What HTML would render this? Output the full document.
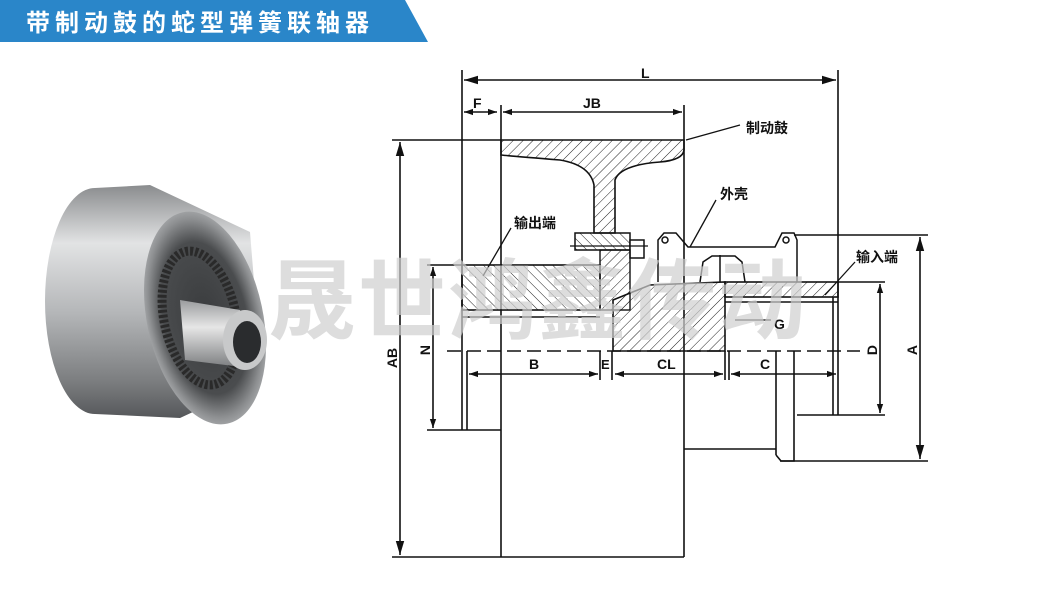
<!DOCTYPE html>
<html><head><meta charset="utf-8"><style>
html,body{margin:0;padding:0;background:#fff;}
svg{display:block;}
text{font-family:"Liberation Sans","Noto Sans CJK SC",sans-serif;}
</style></head><body>
<svg width="1064" height="593" viewBox="0 0 1064 593" xmlns="http://www.w3.org/2000/svg">
<defs>
<pattern id="h1" width="7" height="7" patternUnits="userSpaceOnUse" patternTransform="rotate(45)"><line x1="0" y1="0" x2="0" y2="7" stroke="#222" stroke-width="1"/></pattern>
<pattern id="h2" width="7" height="7" patternUnits="userSpaceOnUse" patternTransform="rotate(-45)"><line x1="0" y1="0" x2="0" y2="7" stroke="#222" stroke-width="1"/></pattern>
<linearGradient id="gb" x1="0" y1="0" x2="0" y2="1"><stop offset="0" stop-color="#8a8c8e"/><stop offset="0.25" stop-color="#e2e3e4"/><stop offset="0.55" stop-color="#b4b6b8"/><stop offset="0.85" stop-color="#7a7c7e"/><stop offset="1" stop-color="#55575a"/></linearGradient>
<radialGradient id="gf" cx="0.5" cy="0.5" r="0.55"><stop offset="0" stop-color="#3a3c3e"/><stop offset="0.65" stop-color="#4a4c4e"/><stop offset="0.85" stop-color="#8e9092"/><stop offset="1" stop-color="#b8babc"/></radialGradient>
<linearGradient id="gh" x1="0" y1="0" x2="0" y2="1"><stop offset="0" stop-color="#9a9c9e"/><stop offset="0.4" stop-color="#e6e6e6"/><stop offset="1" stop-color="#7a7c7e"/></linearGradient>
<marker id="ar" viewBox="0 0 10 10" refX="10" refY="5" markerWidth="9" markerHeight="9" markerUnits="userSpaceOnUse" orient="auto-start-reverse"><path d="M0,1.5 L10,5 L0,8.5 z" fill="#111"/></marker>
<marker id="ab" viewBox="0 0 10 10" refX="10" refY="5" markerWidth="14" markerHeight="14" markerUnits="userSpaceOnUse" orient="auto-start-reverse"><path d="M0,2 L10,5 L0,8 z" fill="#111"/></marker>
</defs>

<!-- header -->
<polygon points="0,0 405,0 428,42 0,42" fill="#2a86c9"/>
<text x="26" y="31" font-size="24" font-weight="bold" fill="#fff" letter-spacing="5">带制动鼓的蛇型弹簧联轴器</text>

<!-- photo -->
<path d="M95,188 L150,185 L250,232 L262,380 L180,418 L95,414 A50,113 0 0 1 95,188 z" fill="url(#gb)"/>
<ellipse cx="205" cy="318" rx="58" ry="108" transform="rotate(-12 205 318)" fill="url(#gf)"/>
<ellipse cx="200" cy="318" rx="36" ry="68" transform="rotate(-12 200 318)" fill="none" stroke="#2a2a2a" stroke-width="9" stroke-dasharray="3 2"/>
<path d="M180,300 L240,310 L250,368 L185,360 z" fill="url(#gh)"/>
<ellipse cx="245" cy="340" rx="22" ry="30" fill="#c8c9ca"/>
<ellipse cx="247" cy="342" rx="14" ry="21" fill="#2a2c2e"/>

<!-- diagram lines -->
<g stroke="#111" stroke-width="1.6" fill="none">
<line x1="462" y1="70" x2="462" y2="430"/>
<line x1="838" y1="70" x2="838" y2="415"/>
<line x1="464" y1="80" x2="836" y2="80" marker-start="url(#ab)" marker-end="url(#ab)"/>
<line x1="464" y1="112" x2="497" y2="112" marker-start="url(#ar)" marker-end="url(#ar)"/>
<line x1="503" y1="112" x2="682" y2="112" marker-start="url(#ar)" marker-end="url(#ar)"/>
<line x1="501" y1="105" x2="501" y2="557"/>
<line x1="684" y1="105" x2="684" y2="557"/>
<line x1="392" y1="140" x2="501" y2="140"/>
<line x1="392" y1="557" x2="684" y2="557"/>
<line x1="400" y1="142" x2="400" y2="555" marker-start="url(#ab)" marker-end="url(#ab)"/>
<line x1="427" y1="265" x2="462" y2="265"/>
<line x1="427" y1="430" x2="501" y2="430"/>
<line x1="433" y1="267" x2="433" y2="428" marker-start="url(#ar)" marker-end="url(#ar)"/>
<line x1="467" y1="351" x2="467" y2="430"/>
<line x1="838" y1="282" x2="885" y2="282"/>
<line x1="797" y1="415" x2="885" y2="415"/>
<line x1="880" y1="284" x2="880" y2="413" marker-start="url(#ar)" marker-end="url(#ar)"/>
<line x1="833" y1="297" x2="833" y2="415"/>
<line x1="794" y1="235" x2="928" y2="235"/>
<line x1="780" y1="461" x2="928" y2="461"/>
<line x1="920" y1="237" x2="920" y2="459" marker-start="url(#ab)" marker-end="url(#ab)"/>
<line x1="776" y1="351" x2="776" y2="455"/>
<line x1="794" y1="351" x2="794" y2="455"/>
<path d="M776,455 L781,461 L794,461 L794,455"/>
<line x1="684" y1="449" x2="776" y2="449"/>
<line x1="469" y1="374" x2="598" y2="374" marker-start="url(#ar)" marker-end="url(#ar)"/>
<line x1="600" y1="351" x2="600" y2="380"/>
<line x1="612" y1="351" x2="612" y2="380"/>
<line x1="615" y1="374" x2="723" y2="374" marker-start="url(#ar)" marker-end="url(#ar)"/>
<line x1="725" y1="351" x2="725" y2="380"/>
<line x1="729" y1="351" x2="729" y2="380"/>
<line x1="731" y1="374" x2="836" y2="374" marker-start="url(#ar)" marker-end="url(#ar)"/>
<line x1="447" y1="351" x2="860" y2="351" stroke-dasharray="14 6"/>
</g>

<!-- drum -->
<path d="M501,140 L684,140 L684,150 Q683,160 660,162 Q620,165 615,180 L615,233 L594,233 L594,185 Q590,165 560,160 Q510,156 501,155 z" fill="url(#h1)" stroke="#111" stroke-width="1.6"/>
<rect x="575" y="233" width="55" height="17" fill="url(#h2)" stroke="#111" stroke-width="1.5"/>
<rect x="630" y="240" width="14" height="18" fill="#fff" stroke="#111" stroke-width="1.5"/>
<line x1="570" y1="246" x2="648" y2="246" stroke="#111" stroke-width="1.2"/>
<g stroke="#111" stroke-width="1.5" fill="none">
<path d="M658,282 L658,240 L664,233 L676,233 L688,247 L775,247 L782,233 L794,233 L797,240 L797,282"/>
<circle cx="665" cy="240" r="3"/><circle cx="786" cy="240" r="3"/>
<path d="M700,282 L703,262 L712,256 L735,256 L742,262 L745,282"/>
<line x1="720" y1="255" x2="720" y2="282"/>
</g>
<rect x="462" y="265" width="138" height="45" fill="url(#h2)" stroke="#111" stroke-width="1.6"/>
<line x1="462" y1="317" x2="600" y2="317" stroke="#111" stroke-width="1.4"/>
<rect x="600" y="250" width="30" height="60" fill="url(#h1)" stroke="#111" stroke-width="1.4"/>
<polygon points="613,300 650,285 725,282 725,351 613,351" fill="url(#h1)" stroke="#111" stroke-width="1.6"/>
<rect x="725" y="282" width="113" height="15" fill="url(#h1)" stroke="#111" stroke-width="1.6"/>
<line x1="725" y1="302" x2="838" y2="302" stroke="#111" stroke-width="1.4"/>

<g stroke="#111" stroke-width="1.3">
<line x1="686" y1="140" x2="740" y2="125"/>
<line x1="716" y1="200" x2="690" y2="247"/>
<line x1="511" y1="228" x2="483" y2="276"/>
<line x1="855" y1="262" x2="825" y2="295"/>
<line x1="735" y1="320" x2="771" y2="320"/>
</g>
<g font-size="14" font-weight="bold" fill="#111">
<text x="746" y="133">制动鼓</text>
<text x="720" y="199">外壳</text>
<text x="514" y="228">输出端</text>
<text x="856" y="262">输入端</text>
<text x="641" y="78">L</text>
<text x="473" y="108">F</text>
<text x="583" y="108">JB</text>
<text x="529" y="369">B</text>
<text x="601" y="369" font-size="13">E</text>
<text x="657" y="369">CL</text>
<text x="760" y="369">C</text>
<text x="774" y="329">G</text>
<text transform="translate(397,358) rotate(-90)" text-anchor="middle">AB</text>
<text transform="translate(430,350) rotate(-90)" text-anchor="middle">N</text>
<text transform="translate(877,350) rotate(-90)" text-anchor="middle">D</text>
<text transform="translate(917,350) rotate(-90)" text-anchor="middle">A</text>
</g>

<text x="268" y="332" font-size="88" font-weight="bold" fill="#cfcfcf" fill-opacity="0.7" letter-spacing="2">晟世鸿鑫传动</text>
</svg>
</body></html>
